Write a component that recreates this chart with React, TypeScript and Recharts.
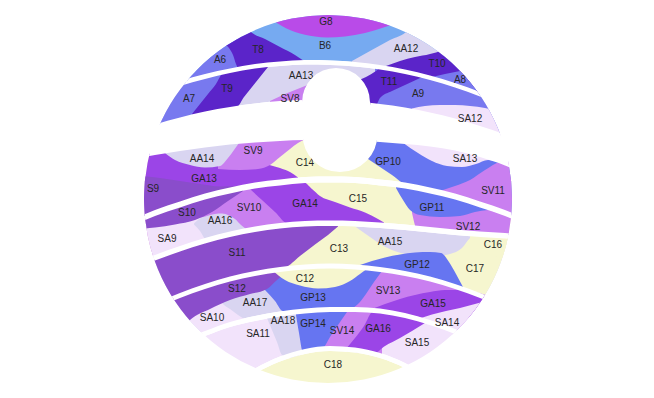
import React from "react";
import { ComposedChart, Area, Scatter, XAxis, YAxis } from "recharts";

const W = 654;
const H = 398;

const COL = {
  G: "#b94be8",
  B: "#76aaf1",
  T: "#5b24c9",
  A: "#7879ef",
  AA: "#d9d5f1",
  SV: "#c97ff0",
  SA: "#f2e3fb",
  C: "#f6f6cf",
  GP: "#6675f1",
  GA: "#9b45e7",
  S: "#8a4dcb",
};

// shared x grid for the row edges
const GRID_X = [130, 155, 180, 205, 230, 255, 280, 305, 330, 355, 380, 405, 430, 455, 480, 505, 530];

// row edges (y, 0 = top)
const ROW1_BOTTOM = [100, 90, 81, 74, 68.5, 64, 61.5, 60, 60.5, 62, 65, 69.5, 75.5, 83, 92, 102, 114];
const ROW2_TOP = [105, 95, 86, 79, 73, 68.5, 66, 64.5, 65, 66.5, 69.5, 74, 80, 87.5, 96.5, 106.5, 118.5];
const ROW2_BOTTOM = [132.5, 124.5, 117.5, 111.5, 107, 103.5, 101, 100, 100, 101.5, 104, 107.5, 112.5, 118.5, 126, 134.5, 144];
const ROW3_TOP = [160, 155, 151, 147.5, 144.5, 142.5, 141, 140, 140, 140.5, 142, 144, 146.5, 150.5, 157, 165.5, 177];
const ROW3_BOTTOM = [220.5, 210, 201.5, 193.5, 187.5, 182.5, 179.5, 177, 176.5, 177, 179.5, 182.5, 187.5, 193.5, 201.5, 210, 220.5];
const ROW4_TOP = [226.5, 216, 207.5, 199.5, 193.5, 188.5, 185.5, 183, 182.5, 183, 185.5, 188.5, 193.5, 199.5, 207.5, 216, 226.5];
const ROW4_BOTTOM = [265, 255, 246, 238, 231.5, 226.5, 223, 221, 220.5, 221, 222.5, 224.5, 227, 229.5, 231.5, 233, 235];
const ROW5_TOP = [270.5, 260.5, 251.5, 243.5, 237, 232, 228.5, 226.5, 226, 226.5, 228, 230, 232.5, 235, 237, 238.5, 240.5];
const ROW5_BOTTOM = [315.5, 303.5, 293, 284, 276.5, 271, 267, 264.5, 263.5, 264.5, 267, 271, 276.5, 284, 293, 303.5, 315.5];
const ROW6_TOP = [320.5, 308.5, 298, 289, 281.5, 276, 272, 269.5, 268.5, 269.5, 272, 276, 281.5, 289, 298, 308.5, 320.5];
const ROW6_BOTTOM = [354, 347, 340, 331, 322, 316, 311.5, 308.5, 307, 307, 308.5, 313, 320, 329, 339, 351, 364];
const ROW7_TOP = [359, 352, 345, 336, 327, 321, 316.5, 313.5, 312, 312, 313.5, 318, 325, 334, 344, 356, 369];
const ROW7_BOTTOM = [493, 459, 430, 405, 384.5, 368.5, 356.5, 349, 346, 347.5, 353, 363, 377.5, 396.5, 419.5, 447, 479];
const ROW8_TOP = [498, 464, 435, 410, 389.5, 373.5, 361.5, 354, 351, 352.5, 358, 368, 382.5, 401.5, 424.5, 452, 484];

type Pt = [number, number, number]; // x, top, bottom

// row 1
const G8: Pt[] = [[262, 0, 10], [277, 0, 23], [295, 0, 32], [315, 0, 36.5], [327, 0, 37.5], [345, 0, 36.5], [365, 0, 33], [385, 0, 27], [400, 0, 21], [412, 0, 12]];
const A6: Pt[] = [[175, 0, 85], [190, 0, 80], [205, 0, 76], [222, 0, 72], [238, 0, 69]];
const T8: Pt[] = [[224, 0, 44], [229, 0, 48], [233, 0, 55], [236, 0, 64], [239, 0, 69], [250, 31, 67], [265, 39, 64.5], [280, 47, 63], [295, 55, 62], [304, 61, 62]];
const AA12: Pt[] = [[352, 61, 62], [370, 51, 65], [390, 40, 68], [408, 30, 72], [420, 0, 75], [440, 0, 80], [460, 0, 86], [480, 0, 93], [495, 0, 100]];
const T10: Pt[] = [[386, 66, 67], [400, 61, 71], [415, 57, 74], [430, 54, 77], [442, 50, 80], [455, 0, 84], [470, 0, 89], [490, 0, 97]];
const A8: Pt[] = [[432, 77, 78], [445, 74, 82], [460, 71, 87], [475, 68, 93], [490, 60, 99]];

// row 2
const A7: Pt[] = [[150, 95, 127], [170, 87.5, 121.5], [190, 81, 116], [210, 76, 112], [228, 72, 108.5]];
const T9: Pt[] = [[192, 114, 115.5], [200, 104, 115], [208, 94, 112.5], [216, 84, 111], [223, 73, 109.5], [230, 71.5, 108], [237, 70, 107], [244, 69, 97], [252, 68, 87], [260, 67, 77], [268, 66, 67]];
const SV8: Pt[] = [[270, 101, 103], [285, 94, 102.5], [300, 88, 102], [315, 82, 102], [330, 77, 102]];
const A9: Pt[] = [[375, 67, 106], [400, 71, 109], [420, 75, 112], [440, 80, 116], [460, 87, 121.5], [480, 94, 127], [500, 102, 134], [520, 112, 142]];
const T11: Pt[] = [[356, 81, 103], [366, 77, 104], [376, 71, 105], [380, 68, 98], [392, 69, 91], [405, 71, 85], [418, 74.5, 79], [422, 76, 77]];
const SA12: Pt[] = [[412, 108.5, 110], [425, 106, 114], [440, 105, 117], [455, 105, 120], [470, 106, 125], [485, 108, 130], [500, 112, 136], [515, 118, 142]];

// row 3
const GA13: Pt[] = [[140, 155, 218], [165, 151.5, 208], [190, 148.5, 201], [215, 146, 195], [240, 142, 187], [258, 141, 184], [266, 163, 182.5], [280, 168, 181], [290, 172, 180], [298, 177.5, 179]];
const SV9: Pt[] = [[218, 143.5, 169], [240, 142, 170], [258, 140.5, 169], [270, 140, 165], [280, 139.5, 157], [290, 139, 149], [298, 139, 143], [305, 139, 139.5]];
const AA14: Pt[] = [[165, 151.5, 153], [175, 150, 160], [190, 148, 165], [205, 146.5, 167.5], [220, 145, 166], [228, 144, 158], [234, 143, 150], [239, 142, 143]];
const S9: Pt[] = [[140, 176, 218], [160, 178, 210], [180, 181, 203], [200, 184, 197], [220, 186.5, 191.5], [238, 186, 187]];
const GP10: Pt[] = [[352, 139, 148], [368, 139.5, 159], [380, 140.5, 167], [392, 141.5, 175], [403, 142.5, 183], [420, 144, 187], [440, 146.5, 191.5], [460, 150, 196.5], [480, 155.5, 203], [500, 162, 210], [520, 170.5, 218]];
const SV11: Pt[] = [[440, 191, 193], [455, 186, 198], [470, 180, 202], [485, 170, 206], [500, 162, 211], [520, 160, 219]];
const SA13: Pt[] = [[404, 142, 143.5], [418, 143.5, 153], [432, 145, 161], [447, 147, 166], [462, 150.5, 167], [476, 154.5, 164], [488, 158, 160], [494, 159.5, 160.5]];

// row 4
const SV10: Pt[] = [[140, 220, 262.5], [170, 210, 251], [200, 199.5, 241], [230, 192, 233], [260, 186.5, 227.5], [285, 183.5, 224.5], [300, 182, 223]];
const GA14: Pt[] = [[250, 188, 189], [262, 186.5, 200], [275, 184.5, 212], [288, 183.5, 223.5], [303, 182, 223], [312, 189, 222.5], [320, 196, 222], [335, 202, 222], [350, 207.5, 222.5], [365, 212.5, 223], [378, 219, 224], [384, 222.5, 224.5]];
const SA9: Pt[] = [[140, 225, 262.5], [160, 223, 256.5], [180, 220, 247.5], [195, 217, 243], [205, 218, 240]];
const AA16: Pt[] = [[194, 223.5, 224.5], [200, 218.5, 231], [207, 216, 240.5], [215, 214, 237], [222, 213.5, 235], [229, 215.5, 233], [235, 219, 232], [241, 225, 230.5], [246, 229, 229.5]];
const S10: Pt[] = [[140, 220.5, 229], [155, 214.5, 227.5], [175, 207.5, 224.5], [195, 201, 220], [212, 196.5, 212], [228, 192.5, 201], [243, 189.5, 191]];
const SV12: Pt[] = [[412, 211, 213], [418, 189.5, 231], [430, 192, 228.5], [460, 199.5, 231.5], [490, 210, 233.5], [520, 220, 236]];
const GP11: Pt[] = [[396, 186.5, 188], [403, 187.5, 200], [410, 188.5, 210], [420, 189.5, 215], [440, 194, 217], [460, 199, 216], [475, 204, 212], [488, 209, 210]];

// row 5
const C13: Pt[] = [[283, 227, 268], [310, 225, 265.5], [330, 224.5, 265], [352, 225, 265.5], [360, 230, 266], [370, 237, 266.5], [380, 244, 267.5], [392, 250, 269], [405, 254, 271.5]];
const S11: Pt[] = [[140, 265, 312], [165, 255.5, 300.5], [190, 247, 290.5], [215, 239, 282], [240, 233.5, 275.5], [262, 229.5, 271], [285, 226.5, 267.5], [300, 225.5, 256], [315, 225, 244.5], [328, 224.5, 235], [338, 224.5, 226.5]];
const C17: Pt[] = [[438, 256, 282], [450, 254, 285], [462, 248, 290], [470, 238, 293], [478, 234, 297], [495, 236, 304], [515, 238, 313]];
const C16: Pt[] = [[470, 234.5, 250], [490, 236, 255], [515, 238, 260]];
const GP12: Pt[] = [[360, 265, 266], [372, 261, 267.5], [385, 257.5, 269], [400, 254.5, 271.5], [415, 252.5, 274.5], [430, 252, 278], [441, 253, 281.5], [449, 262, 284], [456, 274, 286], [463, 287, 288]];

// row 6
const SV13: Pt[] = [[350, 267, 308.5], [380, 270, 310], [410, 274, 316], [440, 281, 325], [470, 291, 336], [500, 303, 350], [520, 311, 360]];
const GP13: Pt[] = [[265, 271, 290], [275, 270, 301], [283, 269, 311], [300, 267.5, 310.5], [330, 266.5, 308.5], [350, 267, 308.5], [358, 267.5, 304], [366, 268, 294], [374, 268.5, 282], [382, 269.5, 271]];
const SA10: Pt[] = [[180, 298, 342], [200, 293, 334.5], [215, 292, 329], [222, 303, 326.5], [230, 309, 323.5], [238, 315, 321.5], [245, 319.5, 320]];
const S12: Pt[] = [[172, 298, 342], [190, 292.5, 320], [210, 285.5, 309], [230, 279.5, 300], [250, 274.5, 294], [267, 271.5, 289], [277, 270, 280], [288, 268.5, 270.5]];
const C12: Pt[] = [[272, 269, 270], [285, 268, 280], [300, 267.5, 285.5], [318, 266.5, 288.5], [335, 266.5, 287], [350, 267, 281], [360, 267.5, 274], [366, 268, 269.5]];
const GA15: Pt[] = [[372, 309, 310], [385, 304, 311], [400, 299, 313.5], [415, 295, 316], [430, 292, 320], [445, 290, 322], [460, 290, 320], [475, 292, 316], [490, 297, 312], [500, 303, 306]];
const SA14: Pt[] = [[418, 319, 320], [432, 314.5, 326], [446, 311, 332], [460, 308, 339], [475, 304, 345], [490, 300, 350]];

// row 7
const SV14: Pt[] = [[310, 310.5, 352], [330, 310.5, 349], [350, 310.5, 350], [365, 311, 353], [382, 312, 357]];
const AA18: Pt[] = [[267, 316, 318], [272, 315.5, 330], [277, 315, 342], [282, 314.5, 355], [290, 314, 358], [302, 312.5, 354]];
const GP14: Pt[] = [[296, 312.5, 315], [299, 312.5, 333], [303, 312, 352], [312, 311.5, 350], [322, 311, 349], [330, 310.5, 337], [338, 310.5, 325], [347, 310.5, 312]];
const GA16: Pt[] = [[346, 349, 351], [355, 338, 352], [364, 326, 353], [373, 311.5, 354], [385, 313, 346], [400, 315.5, 338], [412, 318, 331], [425, 322, 323]];

const LABELS: [string, number, number][] = [
  ["G8", 326, 21], ["B6", 325, 45], ["T8", 258, 49], ["A6", 220, 59], ["AA12", 406, 48], ["T10", 437, 63], ["A8", 460, 79],
  ["A7", 189, 98], ["T9", 227, 88], ["AA13", 301, 75], ["SV8", 290, 98], ["T11", 389, 81], ["A9", 418, 93], ["SA12", 470, 118],
  ["AA14", 202, 158], ["SV9", 253, 150], ["C14", 305, 162], ["GP10", 388, 161], ["SA13", 465, 158], ["S9", 153, 188], ["GA13", 204, 178], ["SV11", 493, 190],
  ["S10", 187, 212], ["SV10", 249, 207], ["GA14", 305, 203], ["C15", 358, 198], ["GP11", 432, 207], ["AA16", 220, 220], ["SV12", 468, 226], ["SA9", 167, 238],
  ["C16", 493, 244], ["S11", 237, 252], ["C13", 339, 248], ["AA15", 390, 241], ["C17", 475, 268], ["GP12", 417, 264],
  ["C12", 305, 278], ["S12", 237, 288], ["AA17", 255, 302], ["GP13", 313, 297], ["SV13", 388, 290], ["GA15", 433, 303], ["SA10", 212, 317], ["SA14", 447, 322],
  ["AA18", 283, 320], ["GP14", 313, 323], ["SV14", 342, 330], ["GA16", 378, 328], ["SA11", 258, 333], ["SA15", 417, 342],
  ["C18", 333, 364],
];

const band = (top: number[] | number, bottom: number[] | number) =>
  GRID_X.map((x, i) => ({
    x,
    v: [typeof top === "number" ? top : top[i], typeof bottom === "number" ? bottom : bottom[i]],
  }));

const shape = (pts: Pt[]) => pts.map(([x, t, b]) => ({ x, v: [t, b] }));

const LAYERS = [
  // row 1
  { key: "row1", fill: COL.B, data: band(0, ROW1_BOTTOM) },
  { key: "G8", fill: COL.G, data: shape(G8) },
  { key: "A6", fill: COL.A, data: shape(A6) },
  { key: "T8", fill: COL.T, data: shape(T8) },
  { key: "AA12", fill: COL.AA, data: shape(AA12) },
  { key: "T10", fill: COL.T, data: shape(T10) },
  { key: "A8", fill: COL.A, data: shape(A8) },
  // row 2
  { key: "row2", fill: COL.AA, data: band(ROW2_TOP, ROW2_BOTTOM) },
  { key: "A7", fill: COL.A, data: shape(A7) },
  { key: "T9", fill: COL.T, data: shape(T9) },
  { key: "SV8", fill: COL.SV, data: shape(SV8) },
  { key: "A9", fill: COL.A, data: shape(A9) },
  { key: "T11", fill: COL.T, data: shape(T11) },
  { key: "SA12", fill: COL.SA, data: shape(SA12) },
  // row 3
  { key: "row3", fill: COL.C, data: band(ROW3_TOP, ROW3_BOTTOM) },
  { key: "GA13", fill: COL.GA, data: shape(GA13) },
  { key: "SV9", fill: COL.SV, data: shape(SV9) },
  { key: "AA14", fill: COL.AA, data: shape(AA14) },
  { key: "S9", fill: COL.S, data: shape(S9) },
  { key: "GP10", fill: COL.GP, data: shape(GP10) },
  { key: "SV11", fill: COL.SV, data: shape(SV11) },
  { key: "SA13", fill: COL.SA, data: shape(SA13) },
  // row 4
  { key: "row4", fill: COL.C, data: band(ROW4_TOP, ROW4_BOTTOM) },
  { key: "SV10", fill: COL.SV, data: shape(SV10) },
  { key: "GA14", fill: COL.GA, data: shape(GA14) },
  { key: "SA9", fill: COL.SA, data: shape(SA9) },
  { key: "AA16", fill: COL.AA, data: shape(AA16) },
  { key: "S10", fill: COL.S, data: shape(S10) },
  { key: "SV12", fill: COL.SV, data: shape(SV12) },
  { key: "GP11", fill: COL.GP, data: shape(GP11) },
  // row 5
  { key: "row5", fill: COL.AA, data: band(ROW5_TOP, ROW5_BOTTOM) },
  { key: "C13", fill: COL.C, data: shape(C13) },
  { key: "S11", fill: COL.S, data: shape(S11) },
  { key: "C17", fill: COL.C, data: shape(C17) },
  { key: "C16", fill: COL.C, data: shape(C16) },
  { key: "GP12", fill: COL.GP, data: shape(GP12) },
  // row 6
  { key: "row6", fill: COL.AA, data: band(ROW6_TOP, ROW6_BOTTOM) },
  { key: "SV13", fill: COL.SV, data: shape(SV13) },
  { key: "GP13", fill: COL.GP, data: shape(GP13) },
  { key: "SA10", fill: COL.SA, data: shape(SA10) },
  { key: "S12", fill: COL.S, data: shape(S12) },
  { key: "C12", fill: COL.C, data: shape(C12) },
  { key: "GA15", fill: COL.GA, data: shape(GA15) },
  { key: "SA14", fill: COL.SA, data: shape(SA14) },
  // row 7
  { key: "row7", fill: COL.SA, data: band(ROW7_TOP, ROW7_BOTTOM) },
  { key: "SV14", fill: COL.SV, data: shape(SV14) },
  { key: "AA18", fill: COL.AA, data: shape(AA18) },
  { key: "GP14", fill: COL.GP, data: shape(GP14) },
  { key: "GA16", fill: COL.GA, data: shape(GA16) },
  // row 8
  { key: "C18", fill: COL.C, data: band(ROW8_TOP, H) },
  // white gaps between the rows
  { key: "gap1", fill: "#fff", data: band(ROW1_BOTTOM, ROW2_TOP) },
  { key: "gap2", fill: "#fff", data: band(ROW2_BOTTOM, ROW3_TOP) },
  { key: "gap3", fill: "#fff", data: band(ROW3_BOTTOM, ROW4_TOP) },
  { key: "gap4", fill: "#fff", data: band(ROW4_BOTTOM, ROW5_TOP) },
  { key: "gap5", fill: "#fff", data: band(ROW5_BOTTOM, ROW6_TOP) },
  { key: "gap6", fill: "#fff", data: band(ROW6_BOTTOM, ROW7_TOP) },
  { key: "gap7", fill: "#fff", data: band(ROW7_BOTTOM, ROW8_TOP) },
];

const labelData = LABELS.map(([name, x, y]) => ({ name, x, y }));

// outer disc, with one hole (upper arc in row 2, lower arc in row 3)
const CLIP =
  "path(evenodd, 'M 144 199 A 184 184 0 1 0 512 199 A 184 184 0 1 0 144 199 Z " +
  "M 302 102 A 34 34 0 0 1 370 102 L 377.4 134.6 A 37.4 37.4 0 0 1 302.6 134.6 Z')";

const renderLabel = (p: any) => (
  <text
    x={p.cx}
    y={p.cy}
    textAnchor="middle"
    dominantBaseline="central"
    fontSize={10}
    fontFamily="'Liberation Sans', Arial, sans-serif"
    fill="#262626"
  >
    {p.payload.name}
  </text>
);

export default function App() {
  return (
    <div
      style={{
        position: "absolute",
        left: 0,
        top: 0,
        width: W,
        height: H,
        background: "#fff",
        clipPath: CLIP,
      }}
    >
      <ComposedChart width={W} height={H} margin={{ top: 0, right: 0, bottom: 0, left: 0 }}>
        <XAxis type="number" dataKey="x" domain={[0, W]} hide allowDataOverflow />
        <YAxis type="number" domain={[0, H]} reversed hide allowDataOverflow />
        {LAYERS.map((l) => (
          <Area
            key={l.key}
            data={l.data}
            dataKey="v"
            type="monotone"
            fill={l.fill}
            fillOpacity={1}
            stroke="none"
            dot={false}
            activeDot={false}
            isAnimationActive={false}
          />
        ))}
        <Scatter data={labelData} dataKey="y" shape={renderLabel} isAnimationActive={false} />
      </ComposedChart>
    </div>
  );
}
